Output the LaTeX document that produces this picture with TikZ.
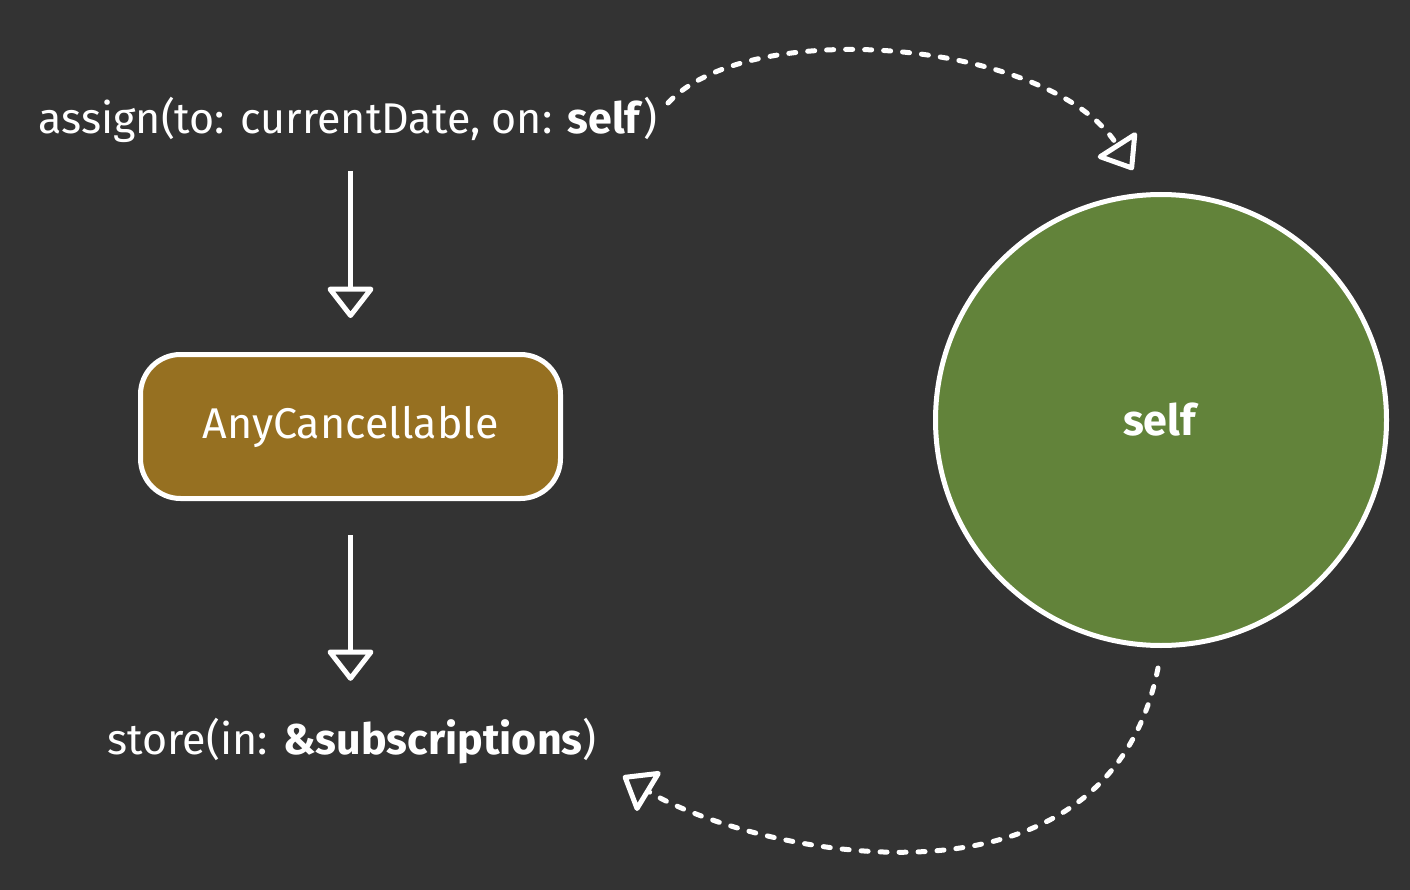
\documentclass[tikz,border=0pt]{standalone}
\usepackage{fontspec}
\setmainfont{Fira Sans}
\usetikzlibrary{arrows.meta,calc}
\definecolor{bg}{HTML}{333333}
\definecolor{boxfill}{HTML}{967021}
\definecolor{selffill}{HTML}{62833A}
\begin{document}
\begin{tikzpicture}[x=1pt,y=-1pt,
  lbl/.style={text=white,inner sep=0pt,font=\fontsize{43}{45}\selectfont},
  arr/.style={draw=white,line width=5pt,-{Triangle[open,length=33pt,width=50pt,line join=round]}},
  dashline/.style={arr,dash pattern=on 7pt off 12pt,line cap=round}]
\fill[bg] (0,0) rectangle (1410,890);
\useasboundingbox (0,0) rectangle (1410,890);
\node[lbl] (t1) at (348,120) {assign(to: currentDate, on: \textbf{self})};
\node[draw=white,line width=5pt,fill=boxfill,rounded corners=40pt,minimum width=420pt,minimum height=144pt,lbl] (ac) at (350.5,426.5) {AnyCancellable};
\node[circle,draw=white,line width=5pt,fill=selffill,minimum size=451pt,lbl] (self) at (1161,420) {\textbf{self}};
\node[lbl] (t2) at (352,741) {store(in: \textbf{\&subscriptions})};
\coordinate (c1s) at (668,103);
\coordinate (c1e) at (1133,170);
\coordinate (c2s) at (1158,668);
\coordinate (c2e) at (623,776);
\draw[arr] ([yshift=-28pt]t1.south -| ac.north) -- ([yshift=34pt]ac.north);
\draw[arr] ([yshift=-34pt]ac.south) -- ([yshift=37pt]t2.north -| ac.south);
\draw[dashline] (c1s) .. controls (750,15) and (1050,40) .. (c1e);
\draw[dashline] (c2s) .. controls (1105,935) and (745,850) .. (c2e);
\end{tikzpicture}
\end{document}
